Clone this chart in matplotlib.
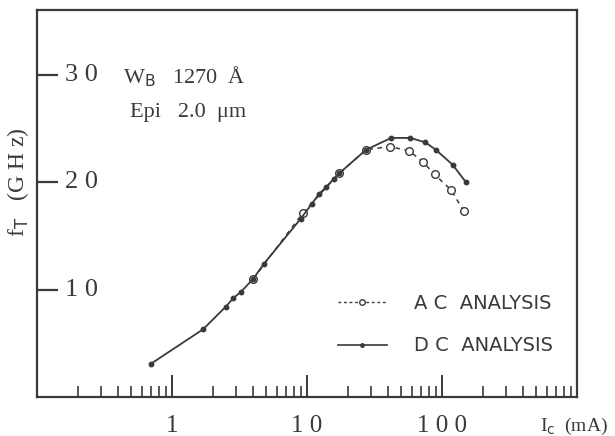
import matplotlib
matplotlib.use("Agg")
import matplotlib.pyplot as plt
from matplotlib.lines import Line2D

# ---- data ----
dc_x = [0.7, 1.7, 2.5, 2.85, 3.25, 4.0, 4.8, 9.0, 10.9, 12.3, 13.8, 15.8, 17.3, 27.4, 42, 58, 75, 90, 120, 150]
dc_y = [3.1, 6.3, 8.4, 9.2, 9.8, 11.0, 12.4, 16.6, 18.0, 18.9, 19.5, 20.3, 20.8, 23.0, 24.1, 24.1, 23.7, 23.0, 21.6, 20.0]
ac_x = [4.0, 9.3, 17.3, 27.4, 41, 57, 72, 88, 116, 145]
ac_y = [11.0, 17.1, 20.8, 23.0, 23.3, 22.9, 21.9, 20.7, 19.3, 17.3]
y_ticks = [10, 20, 30]
y_tick_labels = ["1 0", "2 0", "3 0"]
x_ticks = [1, 10, 100]
x_tick_labels = ["1", "1 0", "1 0 0"]

ink = "#3a3a3a"
plt.rcParams['font.family'] = ['Liberation Serif', 'DejaVu Serif']

fig = plt.figure(figsize=(6.15, 4.36), dpi=100)
ax = fig.add_axes([37/615, 1-397/436, 540/615, 387/436])
ax.set_xscale('log')
ax.set_xlim(0.1, 1000)
ax.set_ylim(0, 36)

ax.plot(ac_x, ac_y, linestyle=(0, (3, 3)), color=ink, lw=1.1, marker='o',
        ms=5.5, mfc='white', mec=ink, mew=1.0, zorder=3)
ax.plot(dc_x, dc_y, linestyle='-', color=ink, lw=1.3, marker='o',
        ms=3.2, mfc=ink, mec=ink, zorder=4)

for s in ax.spines.values():
    s.set_color(ink)
    s.set_linewidth(1.6)

ax.set_yticks(y_ticks)
ax.set_yticklabels([])
ax.tick_params(axis='y', which='major', direction='in', length=15, width=1.6, color=ink)
for v, lab in zip(y_ticks, y_tick_labels):
    ax.text(0.052, v, lab, transform=ax.get_yaxis_transform(), ha='left', va='center',
            fontsize=19, color=ink)

ax.set_xticks(x_ticks)
ax.set_xticklabels(x_tick_labels, fontsize=18, color=ink)
ax.tick_params(axis='x', which='major', direction='in', length=16, width=1.4, color=ink, pad=13)
ax.tick_params(axis='x', which='minor', direction='in', length=8, width=1.2, color=ink)
ax.xaxis.set_minor_formatter(matplotlib.ticker.NullFormatter())

# annotations
fig.text(123/615, 1-77/436, r"W$_\mathrm{B}$   1270  Å", fontsize=16, color=ink,
         ha='left', va='center')
fig.text(130/615, 1-113/436, "Epi   2.0  μm", fontsize=16, color=ink, ha='left', va='center')

fig.text(608/615, 1-426/436, r"I$_\mathrm{c}$  (mA)", fontsize=14, color=ink, ha='right', va='center')
fig.text(18/615, 1-182/436, r"f$_\mathrm{T}$   (G H z)", fontsize=17, color=ink, ha='center',
         va='center', rotation=90)

handles = [Line2D([], [], linestyle=(0, (2, 2)), color=ink, lw=1.0, marker='o', ms=4,
                  mfc='white', mec=ink),
           Line2D([], [], linestyle='-', color=ink, lw=1.2, marker='o', ms=2.5,
                  mfc=ink, mec=ink)]
leg = ax.legend(handles, ["A C  ANALYSIS", "D C  ANALYSIS"], loc='upper left',
                bbox_to_anchor=((338-37)/540, 1-(294-10)/387), frameon=False,
                handlelength=2.5, handletextpad=1.4, labelspacing=1.2,
                borderaxespad=0, borderpad=0,
                prop={'family': ['DejaVu Sans'], 'size': 14})
for t in leg.get_texts():
    t.set_color(ink)

fig.savefig("out.png", dpi=100, facecolor='white')
